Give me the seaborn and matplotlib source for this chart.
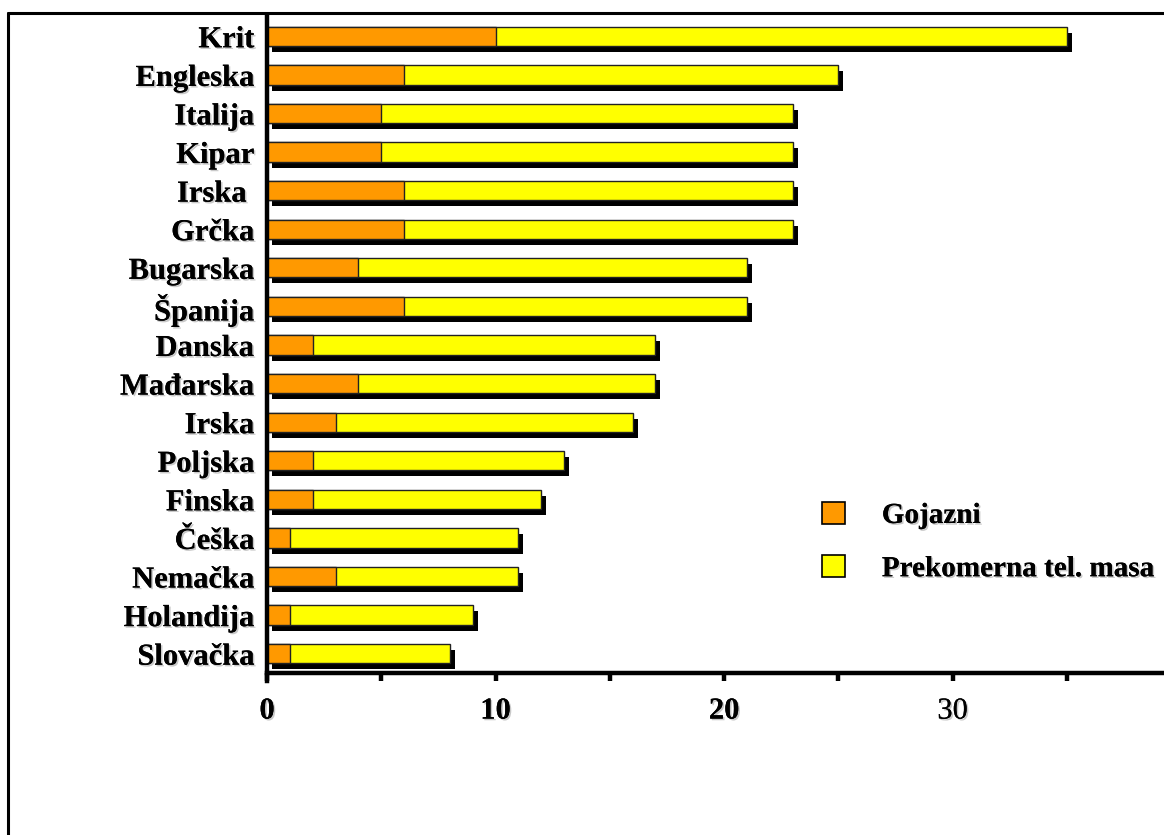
import matplotlib
matplotlib.use("Agg")
import matplotlib.pyplot as plt
import matplotlib.patheffects as pe
from matplotlib.patches import Patch
from matplotlib.lines import Line2D
from matplotlib.transforms import ScaledTranslation
import seaborn as sns
import pandas as pd

countries = ["Krit", "Engleska", "Italija", "Kipar", "Irska ", "Grčka", "Bugarska",
             "Španija", "Danska", "Mađarska", "Irska", "Poljska", "Finska", "Češka",
             "Nemačka", "Holandija", "Slovačka"]
gojazni = [10, 6, 5, 5, 6, 6, 4, 6, 2, 4, 3, 2, 2, 1, 3, 1, 1]
ukupno = [35, 25, 23, 23, 23, 23, 21, 21, 17, 17, 16, 13, 12, 11, 11, 9, 8]
series_names = ["Gojazni", "Prekomerna tel. masa"]
x_ticks = [0, 10, 20, 30]

ORANGE = "#FF9900"
YELLOW = "#FFFF00"

df = pd.DataFrame({"zemlja": countries, "gojazni": gojazni, "ukupno": ukupno})

sns.set_theme(style="white")
plt.rcParams["font.family"] = ["Liberation Serif", "DejaVu Serif"]

fig = plt.figure(figsize=(11.64, 8.35), dpi=100)
ax = fig.add_axes([267 / 1164, 1 - 673 / 835, 1 - 267 / 1164, (673 - 17) / 835])

text_shadow = [pe.withSimplePatchShadow(offset=(1.2, -1.2), shadow_rgbFace="#888888", alpha=0.45),
               pe.Normal()]

# drop shadow behind each bar
sns.barplot(data=df, y="zemlja", x="ukupno", orient="h", color="black",
            width=0.5, edgecolor="black", linewidth=0, saturation=1, ax=ax)
shift = ScaledTranslation(5 / 100, -6 / 100, fig.dpi_scale_trans)
for p in list(ax.patches):
    p.set_transform(ax.transData + shift)

# total (overweight) bars, then the obese share on top
sns.barplot(data=df, y="zemlja", x="ukupno", orient="h", color=YELLOW,
            width=0.5, edgecolor="#222222", linewidth=1, saturation=1, ax=ax)
sns.barplot(data=df, y="zemlja", x="gojazni", orient="h", color=ORANGE,
            width=0.5, edgecolor="#222222", linewidth=1, saturation=1, ax=ax)

ax.set_xlim(0, (1164 - 267) / 22.85)
ax.set_ylim(16.5, -0.5)
ax.set_xlabel("")
ax.set_ylabel("")

for s in ["top", "right"]:
    ax.spines[s].set_visible(False)
for s in ["left", "bottom"]:
    ax.spines[s].set_linewidth(3.2)
    ax.spines[s].set_color("black")
    ax.spines[s].set_zorder(5)
ax.spines["left"].set_bounds(16.7, -0.5)

ax.set_xticks([0, 5, 10, 15, 20, 25, 30, 35])
ax.set_xticklabels([str(t) if t in x_ticks else "" for t in [0, 5, 10, 15, 20, 25, 30, 35]])
ax.tick_params(axis="x", direction="out", length=6, width=3.2, color="black",
               pad=11, labelsize=22, bottom=True, labelcolor="black")
ax.tick_params(axis="y", length=0, pad=9, labelsize=22, labelcolor="black")

for lbl in ax.get_xticklabels():
    lbl.set_fontweight("normal" if lbl.get_text() == "30" else "bold")
    lbl.set_path_effects(text_shadow)
for lbl in ax.get_yticklabels():
    lbl.set_fontweight("bold")
    lbl.set_path_effects(text_shadow)

handles = [Patch(facecolor=ORANGE, edgecolor="black", linewidth=1.2),
           Patch(facecolor=YELLOW, edgecolor="black", linewidth=1.2)]
leg = ax.legend(handles, series_names, loc="upper left",
                bbox_to_anchor=(822 / 1164, 1 - 502 / 835), bbox_transform=fig.transFigure,
                frameon=False, handlelength=0.8, handleheight=0.75, handletextpad=1.25,
                labelspacing=0.9, borderpad=0, borderaxespad=0,
                prop={"size": 21, "weight": "bold"})
for t in leg.get_texts():
    t.set_color("black")
    t.set_path_effects(text_shadow)

# outer frame of the slide
fig.add_artist(Line2D([8 / 1164, 8 / 1164], [1 - 13 / 835, 0], transform=fig.transFigure,
                      color="black", linewidth=2.2))
fig.add_artist(Line2D([8 / 1164, 1], [1 - 13 / 835, 1 - 13 / 835], transform=fig.transFigure,
                      color="black", linewidth=2.2))

fig.savefig("out.png", dpi=100)
